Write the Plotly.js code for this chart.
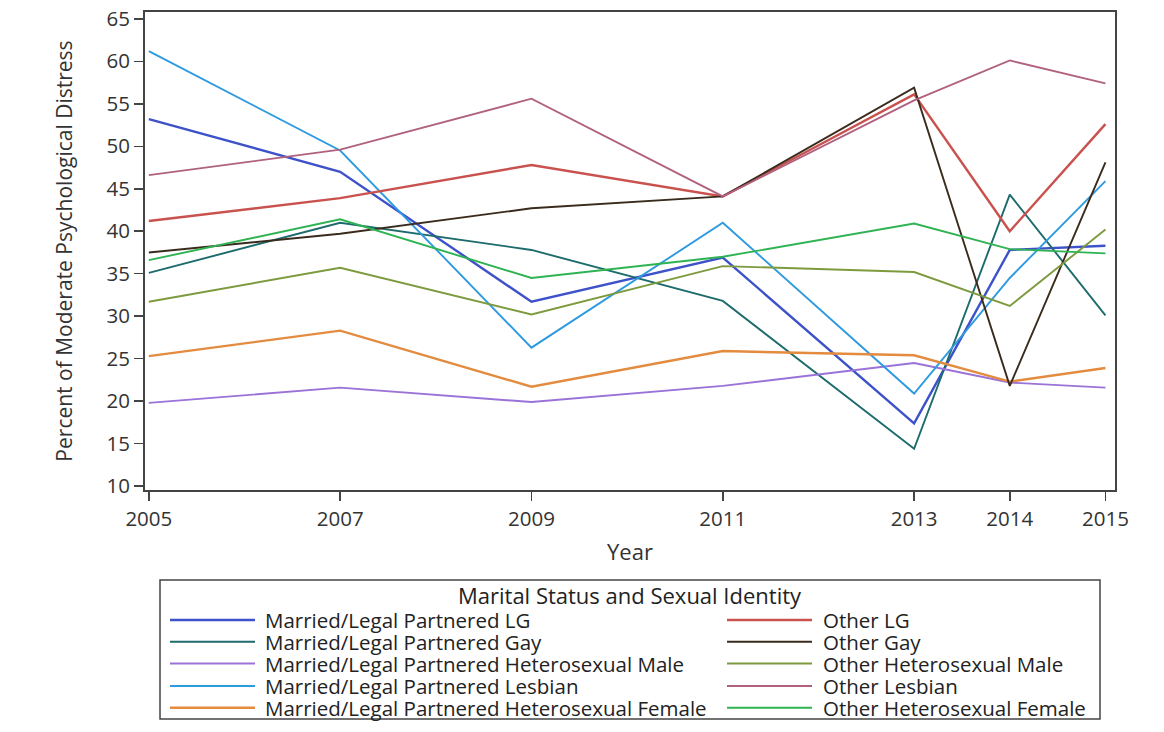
<!DOCTYPE html>
<html>
<head>
<meta charset="utf-8">
<script src="https://cdn.plot.ly/plotly-3.0.1.min.js"></script>
<style>html,body{margin:0;padding:0;background:#fff;}#chart{width:1164px;height:732px;}</style>
</head>
<body>
<div id="chart"></div>
<script>
const years = [2005, 2007, 2009, 2011, 2013, 2014, 2015];
const tickLabels = ["2005", "2007", "2009", "2011", "2013", "2014", "2015"];
const yTicks = [10, 15, 20, 25, 30, 35, 40, 45, 50, 55, 60, 65];

const marriedLG       = [53.2, 47.0, 31.7, 36.9, 17.4, 37.8, 38.3];
const marriedGay      = [35.1, 41.0, 37.8, 31.8, 14.4, 44.3, 30.1];
const marriedHetMale  = [19.8, 21.6, 19.9, 21.8, 24.5, 22.2, 21.6];
const marriedLesbian  = [61.2, 49.5, 26.3, 41.0, 20.9, 34.5, 45.9];
const marriedHetFem   = [25.3, 28.3, 21.7, 25.9, 25.4, 22.3, 23.9];
const otherLG         = [41.2, 43.9, 47.8, 44.1, 56.1, 40.0, 52.6];
const otherGay        = [37.5, 39.7, 42.7, 44.1, 56.9, 21.8, 48.1];
const otherHetMale    = [31.7, 35.7, 30.2, 35.9, 35.2, 31.2, 40.2];
const otherLesbian    = [46.6, 49.6, 55.6, 44.1, 55.4, 60.1, 57.4];
const otherHetFem     = [36.6, 41.4, 34.5, 37.0, 40.9, 37.9, 37.4];

const seriesNames = [
  "Married/Legal Partnered LG",
  "Married/Legal Partnered Gay",
  "Married/Legal Partnered Heterosexual Male",
  "Married/Legal Partnered Lesbian",
  "Married/Legal Partnered Heterosexual Female",
  "Other LG",
  "Other Gay",
  "Other Heterosexual Male",
  "Other Lesbian",
  "Other Heterosexual Female"
];
const seriesValues = [
  marriedLG, marriedGay, marriedHetMale, marriedLesbian, marriedHetFem,
  otherLG, otherGay, otherHetMale, otherLesbian, otherHetFem
];
const seriesColors = [
  "#3d52c9", "#1d6b6c", "#9a72d8", "#2e9ae0", "#e38b3f",
  "#c9524f", "#3a2b1c", "#7d9a3e", "#b0617f", "#2fb352"
];
const seriesWidths = [2.4, 1.9, 1.9, 1.9, 2.4, 2.4, 1.9, 1.9, 1.9, 1.9];
const legendTitle = "Marital Status and Sexual Identity";

const FONT = "Open Sans, Noto Sans, sans-serif";

const traces = seriesNames.map((n, i) => ({
  type: "scatter", mode: "lines", name: n,
  x: years, y: seriesValues[i],
  line: {color: seriesColors[i], width: seriesWidths[i]},
  showlegend: false
}));

// plot area in pixels: left 145, right 1115, top 12, bottom 490
const PL = 145, PW = 970, PT = 12, PH = 478;
const px = x => (x - PL) / PW;
const py = y => (PT + PH - y) / PH;

const shapes = [{
  type: "rect", xref: "paper", yref: "paper",
  x0: px(160), x1: px(1100), y0: py(580), y1: py(719),
  line: {color: "#444", width: 1.5}, fillcolor: "rgba(0,0,0,0)"
}];
const annotations = [{
  xref: "paper", yref: "paper", x: px(630), y: py(595),
  text: legendTitle, showarrow: false, xanchor: "center", yanchor: "middle",
  font: {family: FONT, size: 22, color: "#222"}
}];
const rowY = [620, 641.7, 663.5, 686, 707.7];
seriesNames.forEach((n, i) => {
  const col = i < 5 ? 0 : 1;
  const row = i % 5;
  const lx0 = col === 0 ? 170 : 727;
  const lx1 = col === 0 ? 255 : 812;
  const tx = col === 0 ? 263 : 821;
  shapes.push({
    type: "line", xref: "paper", yref: "paper",
    x0: px(lx0), x1: px(lx1), y0: py(rowY[row]), y1: py(rowY[row]),
    line: {color: seriesColors[i], width: seriesWidths[i]}
  });
  annotations.push({
    xref: "paper", yref: "paper", x: px(tx), y: py(rowY[row]),
    text: n, showarrow: false, xanchor: "left", yanchor: "middle",
    font: {family: FONT, size: 20.5, color: "#222"}
  });
});

const layout = {
  width: 1164, height: 732,
  margin: {l: PL, r: 1164 - PL - PW, t: PT, b: 732 - PT - PH},
  paper_bgcolor: "#fff", plot_bgcolor: "#fff",
  font: {family: FONT, color: "#333", size: 20},
  showlegend: false,
  xaxis: {
    range: [2004.96, 2015.1], tickvals: years, ticktext: tickLabels,
    ticks: "outside", ticklen: 9, tickwidth: 1.5, tickcolor: "#444",
    showline: true, linecolor: "#444", linewidth: 2, mirror: true,
    showgrid: false, zeroline: false, automargin: false,
    tickfont: {family: FONT, size: 20.5, color: "#333"},
    title: {text: "Year", font: {family: FONT, size: 22, color: "#333"}, standoff: 14}
  },
  yaxis: {
    range: [9.55, 65.8], tickvals: yTicks,
    ticks: "outside", ticklen: 9, tickwidth: 1.5, tickcolor: "#444",
    showline: true, linecolor: "#444", linewidth: 2, mirror: true,
    showgrid: false, zeroline: false, automargin: false,
    tickfont: {family: FONT, size: 20.5, color: "#333"},
    title: {text: "Percent of Moderate Psychological Distress", font: {family: FONT, size: 21, color: "#333"}, standoff: 28}
  },
  shapes: shapes,
  annotations: annotations
};

Plotly.newPlot("chart", traces, layout, {staticPlot: true, displayModeBar: false});
</script>
</body>
</html>
